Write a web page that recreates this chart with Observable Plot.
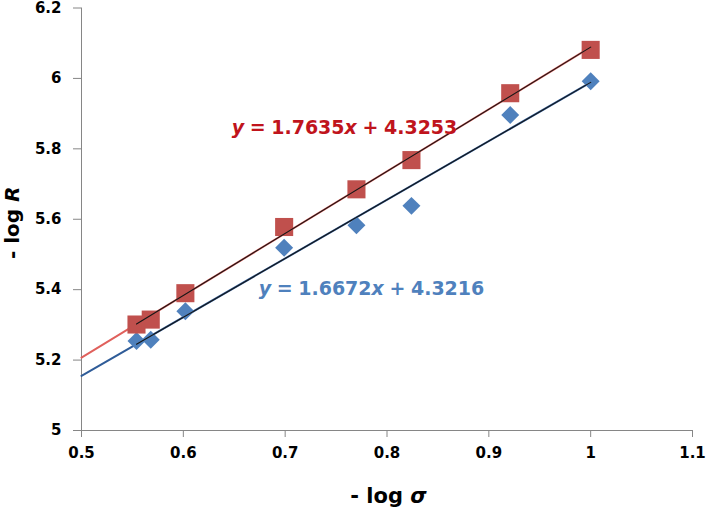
<!DOCTYPE html>
<html>
<head>
<meta charset="utf-8">
<script src="https://cdn.jsdelivr.net/npm/d3@7"></script>
<script src="https://cdn.jsdelivr.net/npm/@observablehq/plot@0.6"></script>
<style>
  body { margin: 0; background: #fff; }
  #chart svg text { font-family: "DejaVu Sans", sans-serif; font-weight: bold; }
</style>
</head>
<body>
<div id="chart"></div>
<script>
// -log σ for each measured sample
const logSigma = [0.554, 0.568, 0.602, 0.699, 0.770, 0.824, 0.921, 1.000];
// -log R, two measurement series
const logRRed  = [5.301, 5.315, 5.390, 5.578, 5.685, 5.768, 5.958, 6.081];
const logRBlue = [5.254, 5.258, 5.339, 5.519, 5.583, 5.638, 5.896, 5.992];
// Linear fits [slope, intercept]
const fitRed  = [1.7635, 4.3253];
const fitBlue = [1.6672, 4.3216];
// Axis ticks and their labels
const xTicks = [0.5, 0.6, 0.7, 0.8, 0.9, 1.0, 1.1];
const xTickLabels = ["0.5", "0.6", "0.7", "0.8", "0.9", "1", "1.1"];
const yTicks = [5, 5.2, 5.4, 5.6, 5.8, 6, 6.2];
const yTickLabels = ["5", "5.2", "5.4", "5.6", "5.8", "6", "6.2"];
// Trendlines are extended back to the start of the x axis
const trendFrom = 0.5;

const W = 706, H = 511;
const colors = {
  redMarker: "#c0504d", blueMarker: "#4f81bd",
  redTrend: "#e0605c", blueTrend: "#2f5c98", core: "#161616",
  redText: "#c0141c", blueText: "#4f81bd", axis: "#868686"
};

const pts = (ys) => logSigma.map((x, i) => ({x, y: ys[i]}));
const fitLine = (fit, x0, x1) => [x0, x1].map(x => ({x, y: fit[0] * x + fit[1]}));
const xMin = d3.min(logSigma), xMax = d3.max(logSigma);

const fig = Plot.plot({
  width: W, height: H,
  marginLeft: 81, marginRight: 14, marginTop: 7.5, marginBottom: 81,
  style: {fontFamily: "DejaVu Sans, sans-serif", fontSize: "15px", fontWeight: "bold", color: "#000", background: "#fff"},
  x: {domain: [0.5, 1.1], label: null},
  y: {domain: [5, 6.2], label: null},
  marks: [
    Plot.ruleY([5], {stroke: colors.axis}),
    Plot.ruleX([0.5], {stroke: colors.axis}),
    Plot.axisX(xTicks, {tickSize: 7, tickPadding: 10, stroke: colors.axis, fill: "#000",
      tickFormat: d => xTickLabels[xTicks.indexOf(d)], label: null}),
    Plot.axisY(yTicks, {tickSize: 8, tickPadding: 12, stroke: colors.axis, fill: "#000",
      tickFormat: d => yTickLabels[yTicks.indexOf(d)], label: null}),
    Plot.line(fitLine(fitRed, trendFrom, xMax), {x: "x", y: "y", stroke: colors.redTrend, strokeWidth: 2}),
    Plot.line(fitLine(fitBlue, trendFrom, xMax), {x: "x", y: "y", stroke: colors.blueTrend, strokeWidth: 2}),
    Plot.dot(pts(logRBlue), {x: "x", y: "y", symbol: "diamond2", r: 8.1, fill: colors.blueMarker}),
    Plot.dot(pts(logRRed), {x: "x", y: "y", symbol: "square", r: 10.2, fill: colors.redMarker}),
    Plot.line(fitLine(fitRed, xMin, xMax), {x: "x", y: "y", stroke: colors.core, strokeWidth: 1.1}),
    Plot.line(fitLine(fitBlue, xMin, xMax), {x: "x", y: "y", stroke: colors.core, strokeWidth: 1.1})
  ]
});

document.getElementById("chart").append(fig);

const svg = d3.select(fig);
const sx = fig.scale("x"), sy = fig.scale("y");

// Regression equations with italic variables
function equation(fit, at, color) {
  const t = svg.append("text")
    .attr("x", sx.apply(at[0]))
    .attr("y", sy.apply(at[1]))
    .attr("text-anchor", "start")
    .attr("fill", color)
    .style("font-size", "19px")
    .style("word-spacing", "-1px");
  t.append("tspan").attr("font-style", "italic").text("y");
  t.append("tspan").text(` = ${fit[0]}`);
  t.append("tspan").attr("font-style", "italic").text("x");
  t.append("tspan").text(` + ${fit[1]}`);
}
equation(fitRed, [0.648, 5.842], colors.redText);
equation(fitBlue, [0.6745, 5.384], colors.blueText);

// Axis titles
const xt = svg.append("text")
  .attr("x", (sx.apply(0.5) + sx.apply(1.1)) / 2 + 2)
  .attr("y", H - 8)
  .attr("text-anchor", "middle")
  .attr("fill", "#000")
  .style("font-size", "21px");
xt.append("tspan").text("- log ");
xt.append("tspan").attr("font-style", "italic").text("σ");

const yt = svg.append("text")
  .attr("transform", `translate(18.5,${(sy.apply(5) + sy.apply(6.2)) / 2 + 4}) rotate(-90)`)
  .attr("text-anchor", "middle")
  .attr("fill", "#000")
  .style("font-size", "20px");
yt.append("tspan").text("- log ");
yt.append("tspan").attr("font-style", "italic").text("R");
</script>
</body>
</html>
